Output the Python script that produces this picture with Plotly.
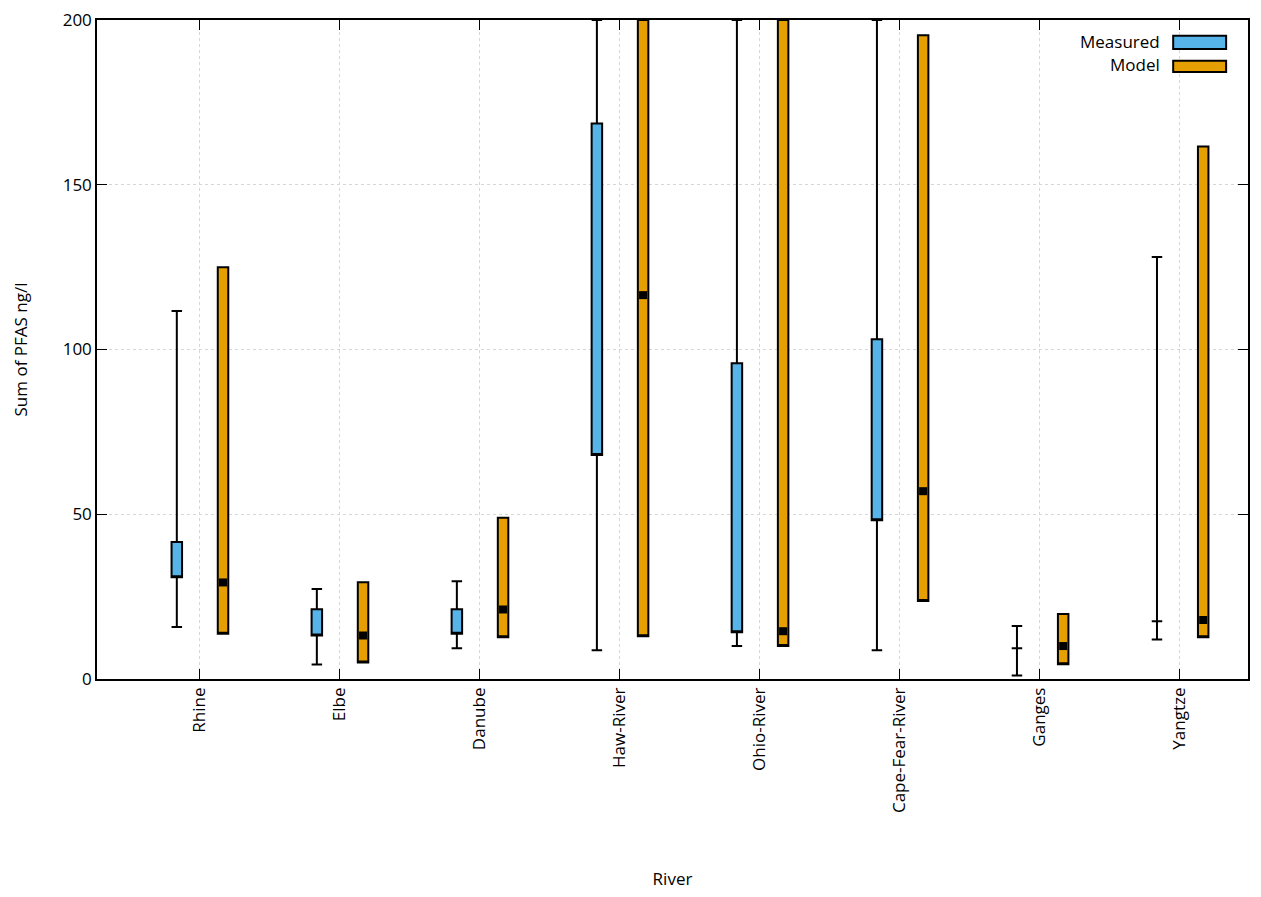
import plotly.graph_objects as go

rivers = ['Rhine', 'Elbe', 'Danube', 'Haw-River', 'Ohio-River', 'Cape-Fear-River', 'Ganges', 'Yangtze']

# measured sum of PFAS (ng/l): whisker low, box low, box high, whisker high
meas_min = [15.8, 4.4, 9.3, 8.7, 10.0, 8.7, 1.1, 12.0]
meas_q1 = [30.9, 13.2, 13.7, 68.0, 14.2, 48.2, 9.3, 17.5]
meas_q3 = [41.6, 21.2, 21.2, 168.6, 95.8, 103.1, 9.3, 17.5]
meas_max = [111.7, 27.3, 29.7, 200, 200, 200, 16.1, 128.1]

# model range and median
model_min = [13.7, 5.0, 12.7, 13.0, 10.0, 23.7, 4.5, 12.7]
model_max = [125.0, 29.4, 48.9, 200, 200, 195.4, 19.7, 161.6]
model_med = [29.3, 13.2, 21.1, 116.5, 14.5, 57.0, 10.0, 17.9]

pos = list(range(1, len(rivers) + 1))
meas_x = [p - 0.16 for p in pos]
model_x = [p + 0.17 for p in pos]

blue = '#56B4E9'
orange = '#E69F00'
font = 'Open Sans'
fsize = 17

fig = go.Figure()

fig.add_trace(go.Box(
    x=meas_x, q1=meas_q1, median=meas_q1, q3=meas_q3,
    lowerfence=meas_min, upperfence=meas_max,
    width=0.075, whiskerwidth=1, fillcolor=blue,
    line=dict(color='black', width=2), name='Measured',
    boxpoints=False, hoverinfo='skip'))

fig.add_trace(go.Box(
    x=model_x, q1=model_min, median=model_min, q3=model_max,
    lowerfence=model_min, upperfence=model_max,
    width=0.075, whiskerwidth=1, fillcolor=orange,
    line=dict(color='black', width=2), name='Model',
    boxpoints=False, hoverinfo='skip'))

fig.add_trace(go.Scatter(
    x=model_x, y=model_med, mode='markers',
    marker=dict(symbol='square', size=8, color='black'),
    hoverinfo='skip'))

# gnuplot-style key: text on the left, sample box on the right
key = [('Measured', blue, 0.968, 0.976, 0.956), ('Model', orange, 0.932, 0.938, 0.921)]
for label, col, ty, y1, y0 in key:
    fig.add_annotation(x=0.925, y=ty, xref='paper', yref='paper', text=label,
                       showarrow=False, xanchor='right', yanchor='middle',
                       font=dict(family=font, size=fsize, color='black'))
    fig.add_shape(type='rect', xref='paper', yref='paper', x0=0.935, x1=0.981,
                  y0=y0, y1=y1, fillcolor=col, line=dict(color='black', width=2))

fig.update_xaxes(
    range=[0.27, 8.49], tickvals=pos, ticktext=rivers, tickangle=-90,
    ticks='inside', ticklen=10, tickcolor='black', mirror='allticks',
    showline=True, linecolor='black', linewidth=1.5, automargin=False,
    showgrid=True, gridcolor='#d6d6d6', gridwidth=1, griddash='dot', zeroline=False,
    tickfont=dict(family=font, size=fsize, color='black'), ticklabeloverflow='allow',
    title=dict(text='River', font=dict(family=font, size=fsize, color='black'), standoff=61))

fig.update_yaxes(
    range=[0, 200], dtick=50,
    ticks='inside', ticklen=10, tickcolor='black', mirror='allticks',
    showline=True, linecolor='black', linewidth=1.5, automargin=False,
    showgrid=True, gridcolor='#d6d6d6', gridwidth=1, griddash='dot', zeroline=False,
    tickfont=dict(family=font, size=fsize, color='black'), ticklabeloverflow='allow',
    title=dict(text='Sum of PFAS ng/l', font=dict(family=font, size=fsize, color='black'), standoff=31))

fig.update_layout(
    width=1261, height=897, showlegend=False,
    margin=dict(l=89, r=21, t=12, b=226),
    paper_bgcolor='white', plot_bgcolor='white',
    font=dict(family=font, size=fsize, color='black'))

fig.write_html('out.html')
